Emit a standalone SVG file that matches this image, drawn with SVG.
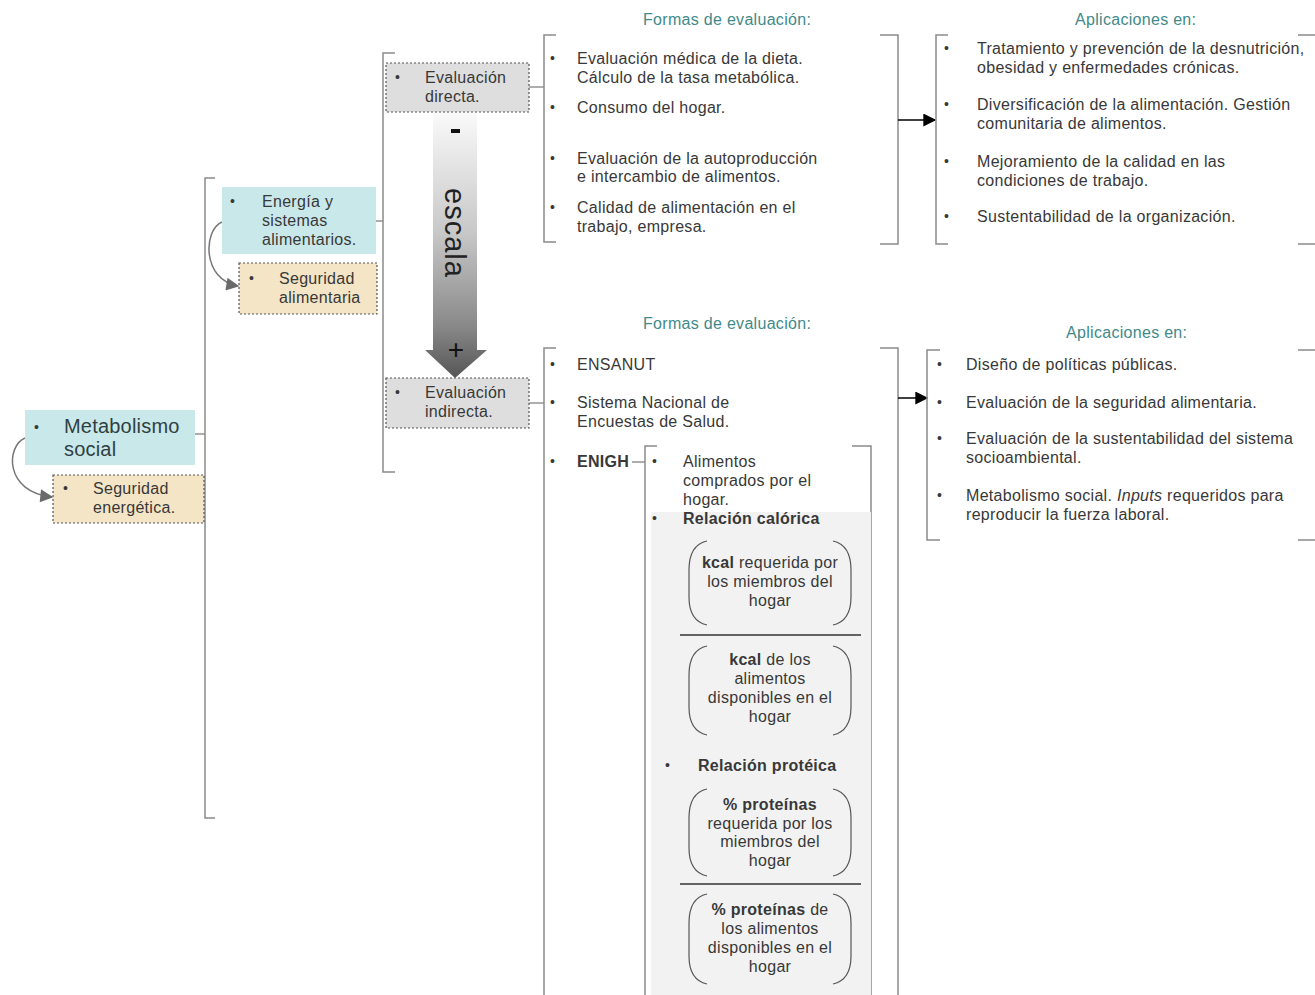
<svg xmlns="http://www.w3.org/2000/svg" width="1315" height="995" viewBox="0 0 1315 995">
  <defs>
    <style>
      text { font-family: "Liberation Sans", Arial, sans-serif; fill: #383838; }
      .t { font-size: 16px; letter-spacing: 0.3px; }
      .big { font-size: 20px; letter-spacing: 0.2px; fill: #2f3f42; }
      .b { font-weight: bold; }
      .bul { font-size: 14px; }
      .head { font-size: 16px; letter-spacing: 0.3px; fill: #3f8a8a; }
      .c { text-anchor: middle; }
      .cyan { fill: #c9e8ea; }
      .tan { fill: #f4e5c6; stroke: #555; stroke-width: 1.2; stroke-dasharray: 2 2; }
      .grey { fill: #dedede; stroke: #555; stroke-width: 1.2; stroke-dasharray: 2 2; }
      .br { fill: none; stroke: #8a8a8a; stroke-width: 1.5; }
      .ln { fill: none; stroke: #777; stroke-width: 1.2; }
      .curve { fill: none; stroke: #777; stroke-width: 1.5; }
      .paren { fill: none; stroke: #555; stroke-width: 1.2; }
      .rule { stroke: #333; stroke-width: 1.5; }
    </style>
    <marker id="grayHead" viewBox="0 0 10 10" refX="9" refY="5" markerWidth="16" markerHeight="13" orient="auto" markerUnits="userSpaceOnUse">
      <path d="M0 0 L10 5 L0 10 Z" fill="#6a6a6a"/>
    </marker>
    <marker id="blackHead" viewBox="0 0 10 10" refX="9" refY="5" markerWidth="20" markerHeight="13" orient="auto" markerUnits="userSpaceOnUse">
      <path d="M0 0 L10 5 L0 10 Z" fill="#000"/>
    </marker>
    <linearGradient id="scaleGrad" gradientUnits="userSpaceOnUse" x1="0" y1="112" x2="0" y2="378">
      <stop offset="0" stop-color="#fafafa"/>
      <stop offset="0.45" stop-color="#c8c8c8"/>
      <stop offset="0.8" stop-color="#8a8a8a"/>
      <stop offset="1" stop-color="#555"/>
    </linearGradient>
  </defs>

  <rect width="1315" height="995" fill="#fff"/>

  <!-- connectors: brackets, links and arrows -->
  <g id="connectors">
    <!-- main bracket from Metabolismo social -->
    <line class="ln" x1="195" y1="434" x2="205" y2="434"/>
    <path class="br" d="M215 178 H205 V818 H215"/>
    <!-- bracket from Energía y sistemas alimentarios -->
    <line class="ln" x1="376" y1="221" x2="383" y2="221"/>
    <path class="br" d="M395 53 H383 V472 H395"/>
    <!-- bracket of direct evaluation -->
    <line class="ln" x1="529" y1="87" x2="544" y2="87"/>
    <path class="br" d="M556 35 H544 V242 H556"/>
    <path class="br" d="M880 35 H898 V244 H880"/>
    <line x1="898" y1="120" x2="935" y2="120" stroke="#000" stroke-width="1.5" marker-end="url(#blackHead)"/>
    <path class="br" d="M948 35 H936 V244 H948"/>
    <path class="br" d="M1298 35 H1315 M1298 244 H1315"/>
    <!-- bracket of indirect evaluation -->
    <line class="ln" x1="529" y1="403" x2="544" y2="403"/>
    <path class="br" d="M556 348 H544 V995"/>
    <path class="br" d="M880 348 H898 V995"/>
    <line x1="898" y1="398" x2="927" y2="398" stroke="#000" stroke-width="1.5" marker-end="url(#blackHead)"/>
    <path class="br" d="M940 350 H927 V540 H940"/>
    <path class="br" d="M1298 350 H1315 M1298 540 H1315"/>
    <!-- ENIGH sub-bracket -->
    <line class="ln" x1="632" y1="462" x2="645" y2="462"/>
    <path class="br" d="M657 446 H645 V995"/>
    <path class="br" d="M852 446 H871 V995"/>
    <!-- curved links to the security nodes -->
    <path class="curve" d="M25 438 C 6 446, 4 492, 52 497" marker-end="url(#grayHead)"/>
    <path class="curve" d="M222 222 C 203 230, 202 280, 238 286" marker-end="url(#grayHead)"/>
  </g>

  <!-- scale arrow between direct and indirect evaluation -->
  <g id="escala">
    <path d="M433 112 H477 V350 H487 L455 378 L425 350 H433 Z" fill="url(#scaleGrad)"/>
    <rect x="451" y="129" width="9" height="4" fill="#111"/>
    <text transform="translate(455,233) rotate(90)" class="c" y="0" dy="10" style="font-size:29px;letter-spacing:1px;fill:#222">escala</text>
    <text x="456" y="359" class="c" style="font-size:28px;fill:#111">+</text>
  </g>

  <g id="metabolismo-social">
    <rect class="cyan" x="25" y="410" width="170" height="55"/>
    <text class="bul" x="34" y="432">•</text>
    <text class="big" x="64" y="433">Metabolismo</text>
    <text class="big" x="64" y="456">social</text>
  </g>

  <g id="seguridad-energetica">
    <rect class="tan" x="53" y="475" width="151" height="48"/>
    <text class="bul" x="63" y="493">•</text>
    <text class="t" x="93" y="494">Seguridad</text>
    <text class="t" x="93" y="513">energética.</text>
  </g>

  <g id="energia-sistemas">
    <rect class="cyan" x="222" y="187" width="154" height="67"/>
    <text class="bul" x="230" y="206">•</text>
    <text class="t" x="262" y="207">Energía y</text>
    <text class="t" x="262" y="226">sistemas</text>
    <text class="t" x="262" y="245">alimentarios.</text>
  </g>

  <g id="seguridad-alimentaria">
    <rect class="tan" x="239" y="263" width="138" height="51"/>
    <text class="bul" x="249" y="283">•</text>
    <text class="t" x="279" y="284">Seguridad</text>
    <text class="t" x="279" y="303">alimentaria</text>
  </g>

  <g id="evaluacion-directa">
    <rect class="grey" x="386" y="63" width="143" height="49"/>
    <text class="bul" x="395" y="82">•</text>
    <text class="t" x="425" y="83">Evaluación</text>
    <text class="t" x="425" y="102">directa.</text>
  </g>

  <g id="evaluacion-indirecta">
    <rect class="grey" x="386" y="378" width="143" height="50"/>
    <text class="bul" x="395" y="397">•</text>
    <text class="t" x="425" y="398">Evaluación</text>
    <text class="t" x="425" y="417">indirecta.</text>
  </g>

  <g id="formas-directa">
    <text class="head" x="643" y="25">Formas de evaluación:</text>
    <text class="bul" x="550" y="63">•</text>
    <text class="t" x="577" y="64">Evaluación médica de la dieta.</text>
    <text class="t" x="577" y="83">Cálculo de la tasa metabólica.</text>
    <text class="bul" x="550" y="112">•</text>
    <text class="t" x="577" y="113">Consumo del hogar.</text>
    <text class="bul" x="550" y="163">•</text>
    <text class="t" x="577" y="164">Evaluación de la autoproducción</text>
    <text class="t" x="577" y="182">e intercambio de alimentos.</text>
    <text class="bul" x="550" y="212">•</text>
    <text class="t" x="577" y="213">Calidad de alimentación en el</text>
    <text class="t" x="577" y="232">trabajo, empresa.</text>
  </g>

  <g id="aplicaciones-directa">
    <text class="head" x="1075" y="25">Aplicaciones en:</text>
    <text class="bul" x="944" y="53">•</text>
    <text class="t" x="977" y="54">Tratamiento y prevención de la desnutrición,</text>
    <text class="t" x="977" y="73">obesidad y enfermedades crónicas.</text>
    <text class="bul" x="944" y="109">•</text>
    <text class="t" x="977" y="110">Diversificación de la alimentación. Gestión</text>
    <text class="t" x="977" y="129">comunitaria de alimentos.</text>
    <text class="bul" x="944" y="166">•</text>
    <text class="t" x="977" y="167">Mejoramiento de la calidad en las</text>
    <text class="t" x="977" y="186">condiciones de trabajo.</text>
    <text class="bul" x="944" y="221">•</text>
    <text class="t" x="977" y="222">Sustentabilidad de la organización.</text>
  </g>

  <g id="formas-indirecta">
    <text class="head" x="643" y="329">Formas de evaluación:</text>
    <text class="bul" x="550" y="369">•</text>
    <text class="t" x="577" y="370">ENSANUT</text>
    <text class="bul" x="550" y="407">•</text>
    <text class="t" x="577" y="408">Sistema Nacional de</text>
    <text class="t" x="577" y="427">Encuestas de Salud.</text>
    <text class="bul" x="550" y="466">•</text>
    <text class="t b" x="577" y="467">ENIGH</text>
  </g>

  <g id="aplicaciones-indirecta">
    <text class="head" x="1066" y="338">Aplicaciones en:</text>
    <text class="bul" x="937" y="369">•</text>
    <text class="t" x="966" y="370">Diseño de políticas públicas.</text>
    <text class="bul" x="937" y="407">•</text>
    <text class="t" x="966" y="408">Evaluación de la seguridad alimentaria.</text>
    <text class="bul" x="937" y="443">•</text>
    <text class="t" x="966" y="444">Evaluación de la sustentabilidad del sistema</text>
    <text class="t" x="966" y="463">socioambiental.</text>
    <text class="bul" x="937" y="500">•</text>
    <text class="t" x="966" y="501">Metabolismo social. <tspan font-style="italic">Inputs</tspan> requeridos para</text>
    <text class="t" x="966" y="520">reproducir la fuerza laboral.</text>
  </g>

  <g id="enigh-detalle">
    <rect x="651" y="512" width="220" height="483" fill="#f2f2f2"/>
    <text class="bul" x="652" y="466">•</text>
    <text class="t" x="683" y="467">Alimentos</text>
    <text class="t" x="683" y="486">comprados por el</text>
    <text class="t" x="683" y="505">hogar.</text>
    <text class="bul" x="652" y="523">•</text>
    <text class="t b" x="683" y="524">Relación calórica</text>
    <text class="bul" x="665" y="770">•</text>
    <text class="t b" x="698" y="771">Relación protéica</text>
  </g>

  <g id="kcal-requerida">
    <path class="paren" d="M707 541 Q689 545 689 570 V597 Q689 621 707 625"/>
    <path class="paren" d="M833 541 Q851 545 851 570 V597 Q851 621 833 625"/>
    <text class="t c" x="770" y="568"><tspan class="b">kcal</tspan> requerida por</text>
    <text class="t c" x="770" y="587">los miembros del</text>
    <text class="t c" x="770" y="606">hogar</text>
  </g>
  <line class="rule" x1="680" y1="635" x2="861" y2="635"/>
  <g id="kcal-disponible">
    <path class="paren" d="M707 646 Q689 650 689 675 V707 Q689 731 707 735"/>
    <path class="paren" d="M833 646 Q851 650 851 675 V707 Q851 731 833 735"/>
    <text class="t c" x="770" y="665"><tspan class="b">kcal</tspan> de los</text>
    <text class="t c" x="770" y="684">alimentos</text>
    <text class="t c" x="770" y="703">disponibles en el</text>
    <text class="t c" x="770" y="722">hogar</text>
  </g>

  <g id="proteina-requerida">
    <path class="paren" d="M707 789 Q689 793 689 818 V848 Q689 872 707 876"/>
    <path class="paren" d="M833 789 Q851 793 851 818 V848 Q851 872 833 876"/>
    <text class="t c b" x="770" y="810">% proteínas</text>
    <text class="t c" x="770" y="829">requerida por los</text>
    <text class="t c" x="770" y="847">miembros del</text>
    <text class="t c" x="770" y="866">hogar</text>
  </g>
  <line class="rule" x1="680" y1="884" x2="861" y2="884"/>
  <g id="proteina-disponible">
    <path class="paren" d="M707 894 Q689 898 689 923 V956 Q689 980 707 984"/>
    <path class="paren" d="M833 894 Q851 898 851 923 V956 Q851 980 833 984"/>
    <text class="t c" x="770" y="915"><tspan class="b">% proteínas</tspan> de</text>
    <text class="t c" x="770" y="934">los alimentos</text>
    <text class="t c" x="770" y="953">disponibles en el</text>
    <text class="t c" x="770" y="972">hogar</text>
  </g>
</svg>
